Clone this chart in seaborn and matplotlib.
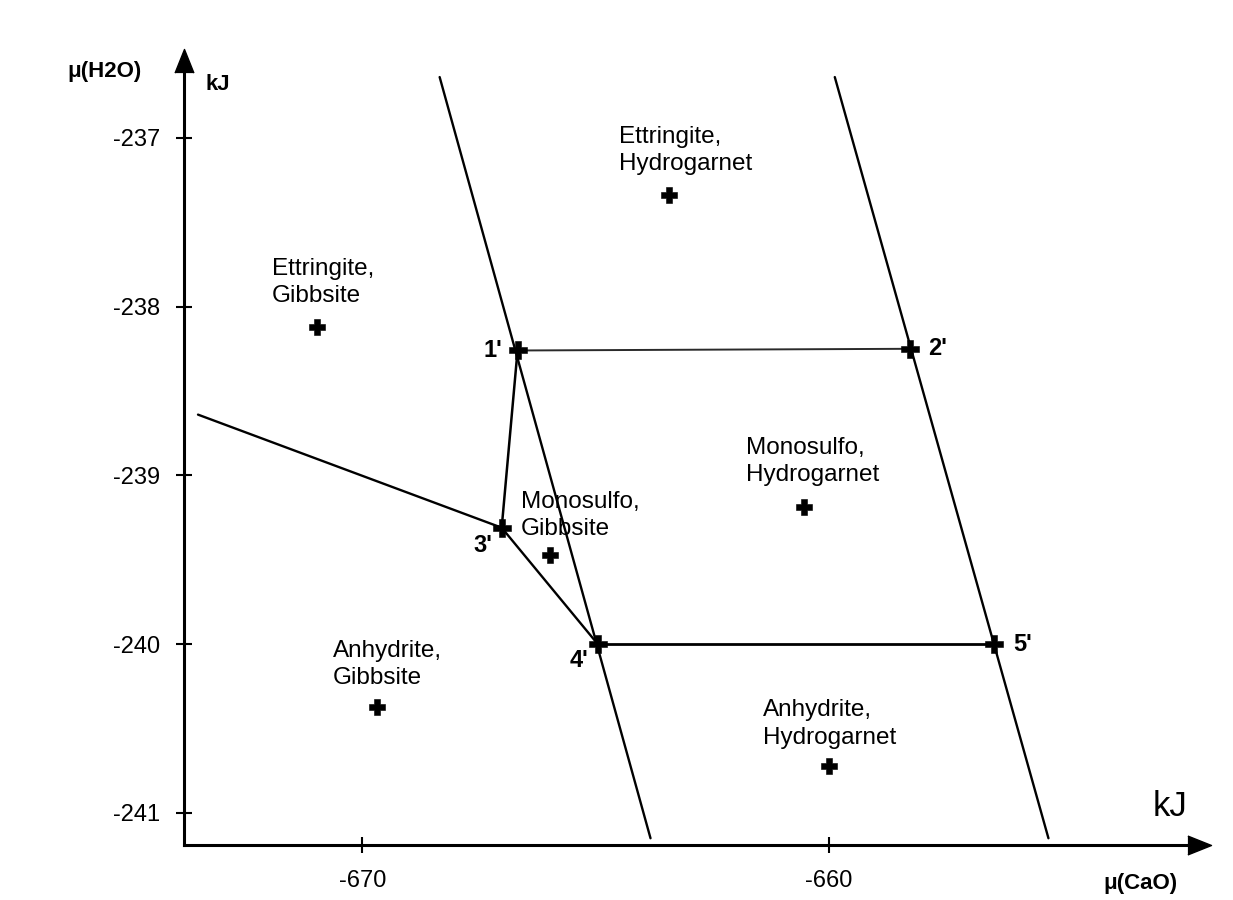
#!/usr/bin/env python3
# Phase diagram: mu(H2O) vs mu(CaO), ettringite / monosulfo / anhydrite fields
import numpy as np
import pandas as pd
import matplotlib
matplotlib.use("Agg")
import matplotlib.pyplot as plt
import seaborn as sns

# --- data (kJ) ---
vertex_names = ["1'", "2'", "3'", "4'", "5'"]
vertex_x = [-666.67, -658.25, -667.01, -664.95, -656.46]
vertex_y = [-238.26, -238.25, -239.31, -240.00, -240.00]

# boundary lines as (x, y) polylines
steep_left_x = [-668.34, -663.82]
steep_left_y = [-236.64, -241.15]
steep_right_x = [-659.87, -655.29]
steep_right_y = [-236.64, -241.15]
gibbsite_edge_x = [-673.52, -667.01, -664.95]
gibbsite_edge_y = [-238.64, -239.31, -240.00]
link_13_x = [-666.67, -667.01]
link_13_y = [-238.26, -239.31]
link_12_x = [-666.67, -658.25]
link_12_y = [-238.26, -238.25]
link_45_x = [-664.95, -656.46]
link_45_y = [-240.00, -240.00]

region_names = ["Ettringite,\nHydrogarnet", "Ettringite,\nGibbsite",
                "Monosulfo,\nHydrogarnet", "Monosulfo,\nGibbsite",
                "Anhydrite,\nGibbsite", "Anhydrite,\nHydrogarnet"]
region_x = [-663.43, -670.96, -660.53, -665.97, -669.68, -660.00]
region_y = [-237.34, -238.12, -239.19, -239.47, -240.37, -240.72]

x_ticks = [-670, -660]
y_ticks = [-237, -238, -239, -240, -241]

# label placement (offset in points from the marker)
region_offsets = [(-36, 32), (-33, 32), (-42, 33), (-21, 28), (-32, 30), (-47, 30)]
vertex_offsets = [(-11, 0), (13, 0), (-7, -13), (-7, -12), (14, 0)]
vertex_ha = ["right", "left", "right", "right", "left"]

FONT = ["Liberation Sans", "DejaVu Sans"]

sns.set_theme(style="ticks")
plt.rcParams["font.family"] = FONT
plt.rcParams["text.color"] = "black"

fig = plt.figure(figsize=(12.33, 9), dpi=100)
ax = fig.add_axes([184 / 1233, 55 / 900, (1187 - 184) / 1233, (845 - 72) / 900])

# boundary lines through seaborn
segments = [
    (steep_left_x, steep_left_y, 1.7, "black"),
    (steep_right_x, steep_right_y, 1.7, "black"),
    (gibbsite_edge_x, gibbsite_edge_y, 1.7, "black"),
    (link_13_x, link_13_y, 1.8, "black"),
    (link_12_x, link_12_y, 1.4, "#2a2a2a"),
    (link_45_x, link_45_y, 2.0, "black"),
]
for xs, ys, lw, col in segments:
    seg = pd.DataFrame({"x": xs, "y": ys})
    sns.lineplot(data=seg, x="x", y="y", sort=False, estimator=None,
                 color=col, linewidth=lw, ax=ax)

verts = pd.DataFrame({"x": vertex_x, "y": vertex_y, "name": vertex_names})
sns.scatterplot(data=verts, x="x", y="y", marker="P", s=160, color="black",
                edgecolor="black", linewidth=0.4, ax=ax, zorder=5)
for (name, vx, vy), (dx, dy), ha in zip(zip(vertex_names, vertex_x, vertex_y),
                                        vertex_offsets, vertex_ha):
    ax.annotate(name, (vx, vy), xytext=(dx, dy), textcoords="offset points",
                ha=ha, va="center", fontsize=17, fontweight="bold")

regions = pd.DataFrame({"x": region_x, "y": region_y})
sns.scatterplot(data=regions, x="x", y="y", marker="P", s=140, color="black",
                edgecolor="black", linewidth=0.4, ax=ax, zorder=5)
for name, rx, ry, (dx, dy) in zip(region_names, region_x, region_y, region_offsets):
    ax.annotate(name, (rx, ry), xytext=(dx, dy), textcoords="offset points",
                ha="left", va="center", fontsize=17.5, linespacing=1.3)

ax.set_xlim(-673.82, -652.32)
ax.set_ylim(-241.19, -236.61)
ax.set_xticks(x_ticks)
ax.set_yticks(y_ticks)
ax.set_xticklabels([str(t) for t in x_ticks])
ax.set_yticklabels([str(t) for t in y_ticks])
ax.set_xlabel("")
ax.set_ylabel("")
ax.tick_params(axis="both", direction="inout", length=11.5, width=1.5,
               labelsize=17, colors="black")
ax.tick_params(axis="y", pad=11.5)
ax.tick_params(axis="x", pad=12)
sns.despine(ax=ax)
for side in ["left", "bottom"]:
    ax.spines[side].set_linewidth(2.2)
    ax.spines[side].set_color("black")

# arrow heads on the axes
head = [(-0.4, -1.0), (0.0, 0.0), (0.4, -1.0)]
head_right = [(-1.0, -0.4), (0.0, 0.0), (-1.0, 0.4)]
ax.plot([0], [1 + 23 / 773], marker=head, ms=34, color="black",
        transform=ax.transAxes, clip_on=False)
ax.plot([1 + 24 / 1003], [0], marker=head_right, ms=34, color="black",
        transform=ax.transAxes, clip_on=False)

# axis titles
fig.text(105 / 1233, 1 - 72 / 900, "\u03bc(H2O)", ha="center", va="center",
         fontsize=16, fontweight="bold")
fig.text(218 / 1233, 1 - 84 / 900, "kJ", ha="center", va="center",
         fontsize=16, fontweight="bold")
fig.text(1170 / 1233, 1 - 806 / 900, "kJ", ha="center", va="center",
         fontsize=25)
fig.text(1140 / 1233, 1 - 883 / 900, "\u03bc(CaO)", ha="center", va="center",
         fontsize=16, fontweight="bold")

fig.savefig("out.png", dpi=100, facecolor="white")
